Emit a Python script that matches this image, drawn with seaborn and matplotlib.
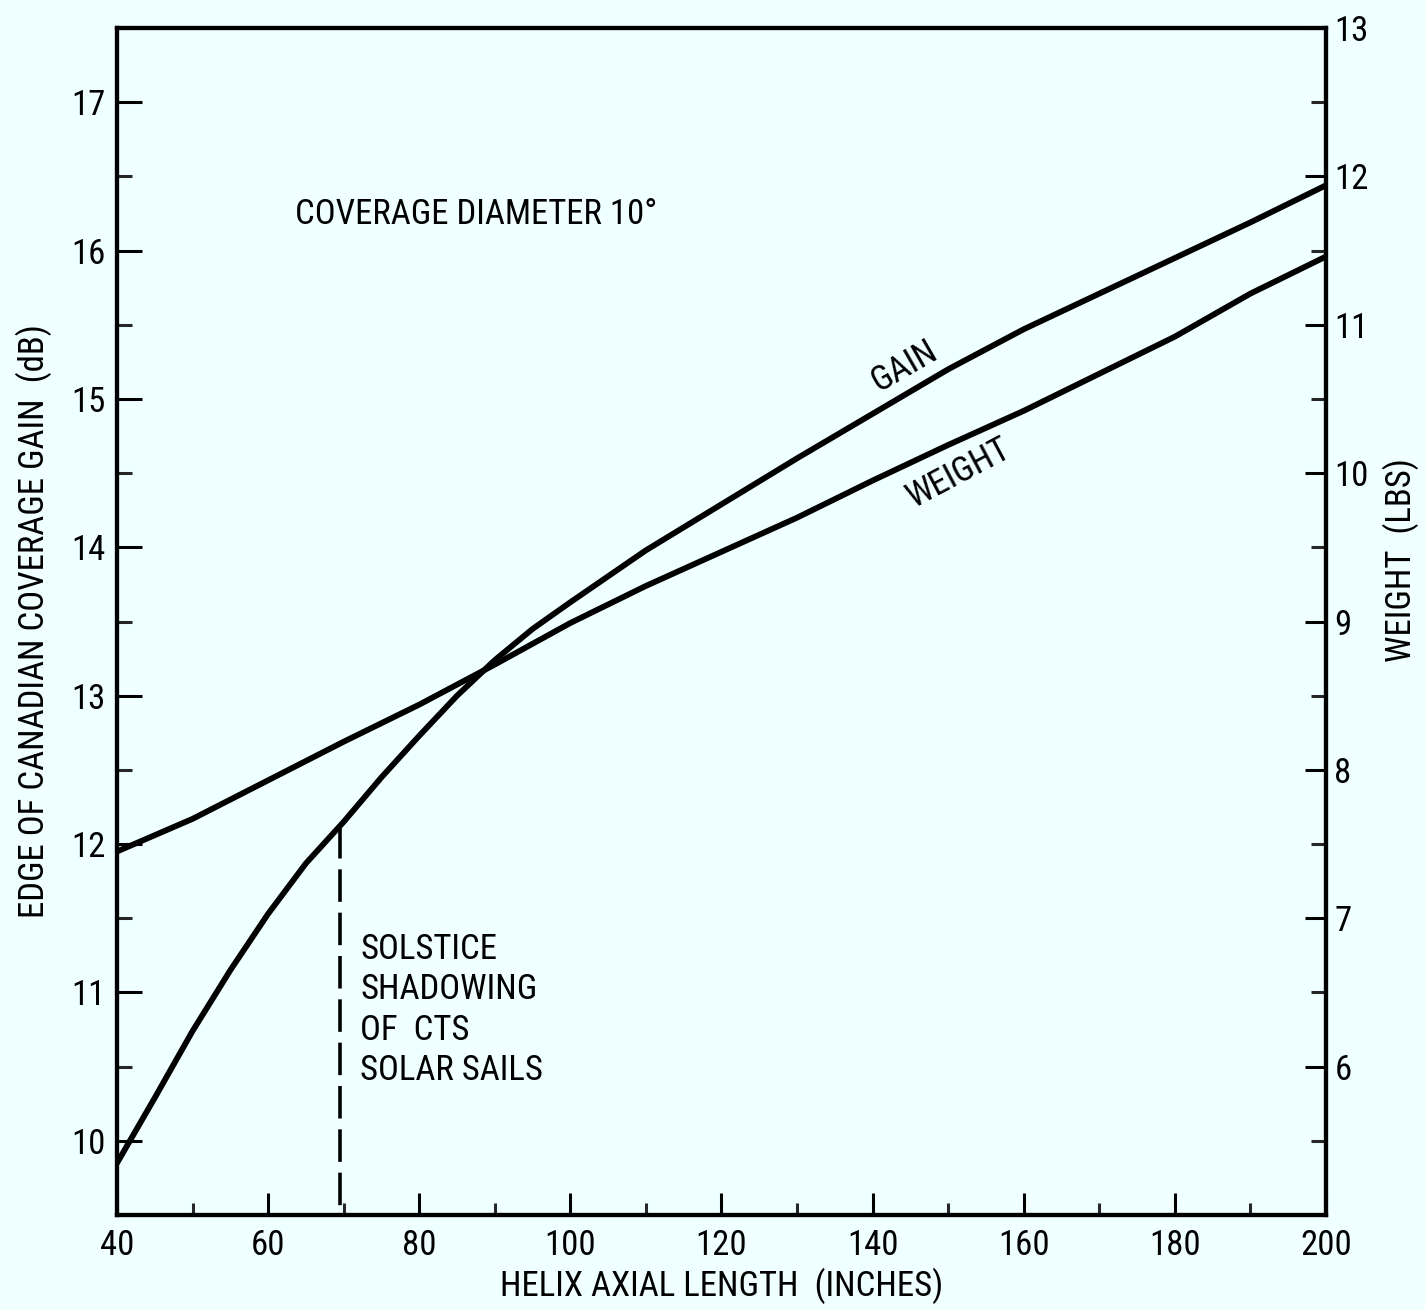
import matplotlib
matplotlib.use("Agg")
import matplotlib.pyplot as plt
from matplotlib.ticker import MultipleLocator
import numpy as np
import pandas as pd
import seaborn as sns

# Helix axial length (inches)
length_in = [40, 45, 50, 55, 60, 65, 70, 75, 80, 85, 90, 95, 100,
             110, 120, 130, 140, 150, 160, 170, 180, 190, 200]
# Edge of Canadian coverage gain (dB)
gain_db = [9.85, 10.29, 10.74, 11.15, 11.53, 11.87, 12.15, 12.45, 12.73, 13.00,
           13.24, 13.45, 13.63, 13.98, 14.29, 14.60, 14.90, 15.20, 15.47, 15.71,
           15.95, 16.19, 16.44]

# Helix weight (lbs)
weight_len = [40, 50, 60, 70, 80, 90, 100, 110, 120, 130, 140, 150, 160, 170, 180, 190, 200]
weight_lbs = [7.45, 7.67, 7.93, 8.19, 8.44, 8.71, 8.99, 9.24, 9.47, 9.70, 9.95,
              10.19, 10.42, 10.67, 10.92, 11.21, 11.46]

solstice_len = 69.5

BG = "#f0ffff"
INK = "black"

sns.set_theme(style="ticks")
plt.rcParams["font.family"] = ["Roboto Condensed", "DejaVu Sans"]
plt.rcParams["font.stretch"] = "condensed"
plt.rcParams["axes.linewidth"] = 3.0

fig = plt.figure(figsize=(14.25, 13.10), dpi=100, facecolor=BG)
ax = fig.add_axes([0.0821, 0.0725, 0.8484, 0.9061])
ax.set_facecolor(BG)
ax2 = ax.twinx()

gain_df = pd.DataFrame({"length": length_in, "gain": gain_db})
weight_df = pd.DataFrame({"length": weight_len, "weight": weight_lbs})

sns.lineplot(data=gain_df, x="length", y="gain", ax=ax, color=INK, lw=4.2)
sns.lineplot(data=weight_df, x="length", y="weight", ax=ax2, color=INK, lw=4.2)

ax.set_xlim(40, 200)
ax.set_ylim(9.5, 17.5)
ax2.set_ylim(5.0, 13.0)

# dashed marker dropped from the gain curve to the axis
sol_gain = float(np.interp(solstice_len, length_in, gain_db))
ax.plot([solstice_len, solstice_len], [sol_gain, 9.5], color=INK, lw=2.6,
        ls=(0, (9, 3.0)), solid_capstyle="butt")

FS = 25
ax.xaxis.set_major_locator(MultipleLocator(20))
ax.xaxis.set_minor_locator(MultipleLocator(10))
ax.yaxis.set_minor_locator(MultipleLocator(0.5))
ax2.yaxis.set_minor_locator(MultipleLocator(0.5))

ax.set_yticks(range(10, 18))
ax2.set_yticks(range(6, 14))

ax.tick_params(axis="x", which="major", direction="in", length=16, width=2.2,
               labelsize=FS, pad=10, colors=INK, top=False)
ax.tick_params(axis="x", which="minor", direction="in", length=9, width=2.2, top=False)
ax.tick_params(axis="y", which="major", direction="in", length=18, width=2.2,
               labelsize=FS, pad=8, colors=INK, right=False)
ax.tick_params(axis="y", which="minor", direction="in", length=11, width=2.2, right=False)
ax2.tick_params(axis="y", which="major", direction="in", length=15, width=2.2,
                labelsize=FS, pad=6, colors=INK)
ax2.tick_params(axis="y", which="minor", direction="in", length=11, width=2.2)

for a in (ax, ax2):
    for sp in a.spines.values():
        sp.set_color(INK)
        sp.set_linewidth(3.0)

ax.set_xlabel("HELIX AXIAL LENGTH  (INCHES)", fontsize=FS, color=INK, labelpad=4)
ax.set_ylabel("EDGE OF CANADIAN COVERAGE GAIN  (dB)", fontsize=FS, color=INK, labelpad=14)
ax2.set_ylabel("WEIGHT  (LBS)", fontsize=FS, color=INK)
ax2.yaxis.set_label_coords(1.047, 0.552)

ax.text(63.6, 16.24, "COVERAGE DIAMETER 10°", fontsize=FS, color=INK,
        ha="left", va="center")
ax.text(144.3, 15.22, "GAIN", fontsize=FS, color=INK, ha="center", va="center",
        rotation=30, rotation_mode="anchor")
ax.text(151.4, 14.50, "WEIGHT", fontsize=FS, color=INK, ha="center", va="center",
        rotation=28, rotation_mode="anchor")
ax.text(72.2, 11.40, "SOLSTICE\nSHADOWING\nOF  CTS\nSOLAR SAILS", fontsize=FS,
        color=INK, ha="left", va="top", linespacing=1.28)

fig.savefig("out.png", dpi=100, facecolor=BG)
